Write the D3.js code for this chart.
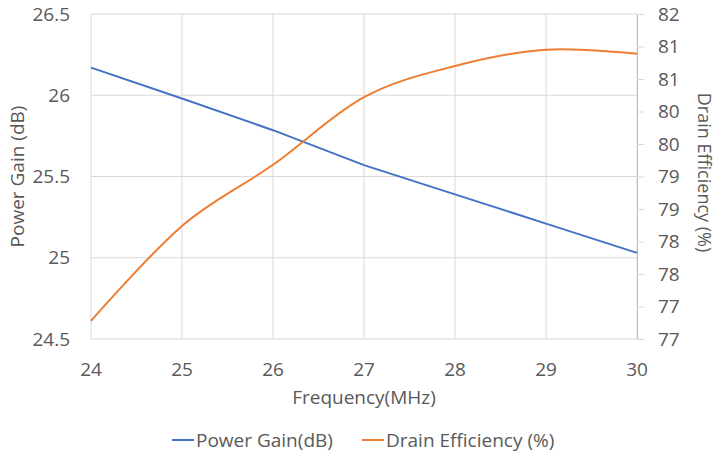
<!DOCTYPE html>
<html>
  <body style="margin:0">
    <style>
      svg { font-family: "Open Sans", sans-serif; }
      text { fill: #595959; }
    </style>
    <script src="https://d3js.org/d3.v7.min.js"></script>
    <script type="text/javascript">
      const width = 717;
      const height = 456;

      const frequency = [24, 25, 26, 27, 28, 29, 30];
      const powerGain = [26.17, 25.98, 25.785, 25.57, 25.39, 25.21, 25.03];
      const drainEfficiency = [77.28, 78.74, 79.68, 80.72, 81.2, 81.45, 81.39];

      const leftTicks = [24.5, 25, 25.5, 26, 26.5];
      const rightTicks = [77, 77.5, 78, 78.5, 79, 79.5, 80, 80.5, 81, 81.5, 82];
      const rightTickLabels = ['77', '77', '78', '78', '79', '79', '80', '80', '81', '81', '82'];

      const margin = { top: 14, right: 80, bottom: 117, left: 91 };
      const fontSize = '19px';

      const svg = d3.select('body')
        .append('svg')
        .attr('width', width)
        .attr('height', height);

      const x = d3.scaleLinear()
        .domain([24, 30])
        .range([margin.left, width - margin.right]);

      const yLeft = d3.scaleLinear()
        .domain([24.5, 26.5])
        .range([height - margin.bottom, margin.top]);

      const yRight = d3.scaleLinear()
        .domain([77, 82])
        .range([height - margin.bottom, margin.top]);

      // grid
      svg.append('g')
        .selectAll('line')
        .data(leftTicks)
        .enter()
        .append('line')
        .attr('x1', x(24))
        .attr('x2', x(30))
        .attr('y1', (d) => yLeft(d))
        .attr('y2', (d) => yLeft(d))
        .attr('stroke', '#d9d9d9');

      svg.append('g')
        .selectAll('line')
        .data(frequency)
        .enter()
        .append('line')
        .attr('x1', (d) => x(d))
        .attr('x2', (d) => x(d))
        .attr('y1', yLeft(24.5))
        .attr('y2', yLeft(26.5))
        .attr('stroke', '#d9d9d9');

      // left axis labels
      svg.append('g')
        .selectAll('text')
        .data(leftTicks)
        .enter()
        .append('text')
        .attr('x', margin.left - 21)
        .attr('y', (d) => yLeft(d))
        .attr('dy', '0.35em')
        .attr('text-anchor', 'end')
        .style('font-size', fontSize)
        .text((d) => d);

      // right axis
      const rightAxis = svg.append('g')
        .attr('transform', `translate(${x(30)},0)`)
        .call(d3.axisRight(yRight).tickValues(rightTicks).tickSize(7).tickPadding(14)
          .tickFormat((d, i) => rightTickLabels[i]));
      rightAxis.select('.domain').attr('stroke', '#bfbfbf');
      rightAxis.selectAll('.tick line').attr('stroke', '#d9d9d9');
      rightAxis.selectAll('.tick text')
        .style('font-size', fontSize)
        .style('font-family', '"Open Sans", sans-serif')
        .attr('fill', '#595959');

      // bottom labels
      svg.append('g')
        .selectAll('text')
        .data(frequency)
        .enter()
        .append('text')
        .attr('x', (d) => x(d))
        .attr('y', yLeft(24.5) + 30)
        .attr('text-anchor', 'middle')
        .attr('dy', '0.35em')
        .style('font-size', fontSize)
        .text((d) => d);

      // axis titles
      svg.append('text')
        .attr('x', (x(24) + x(30)) / 2)
        .attr('y', 397)
        .attr('dy', '0.35em')
        .attr('text-anchor', 'middle')
        .style('font-size', fontSize)
        .text('Frequency(MHz)');

      svg.append('text')
        .attr('transform', `translate(17,${(yLeft(24.5) + yLeft(26.5)) / 2}) rotate(-90)`)
        .attr('dy', '0.35em')
        .attr('text-anchor', 'middle')
        .style('font-size', fontSize)
        .text('Power Gain (dB)');

      svg.append('text')
        .attr('transform', `translate(704,${(yLeft(24.5) + yLeft(26.5)) / 2 - 4}) rotate(90)`)
        .attr('dy', '0.35em')
        .attr('text-anchor', 'middle')
        .style('font-size', '18px')
        .text('Drain Efficiency (%)');

      // lines
      const gainLine = d3.line()
        .x((d, i) => x(frequency[i]))
        .y((d) => yLeft(d));

      const effLine = d3.line()
        .x((d, i) => x(frequency[i]))
        .y((d) => yRight(d))
        .curve(d3.curveCardinal.tension(0));

      svg.append('path')
        .datum(powerGain)
        .attr('d', gainLine)
        .attr('fill', 'none')
        .attr('stroke', '#4472c4')
        .attr('stroke-width', 2);

      svg.append('path')
        .datum(drainEfficiency)
        .attr('d', effLine)
        .attr('fill', 'none')
        .attr('stroke', '#ed7d31')
        .attr('stroke-width', 2);

      // legend
      const legend = [
        { name: 'Power Gain(dB)', color: '#4472c4', x: 172 },
        { name: 'Drain Efficiency (%)', color: '#ed7d31', x: 362 },
      ];
      const lg = svg.append('g')
        .selectAll('g')
        .data(legend)
        .enter()
        .append('g')
        .attr('transform', (d) => `translate(${d.x},440)`);
      lg.append('line')
        .attr('x1', 0)
        .attr('x2', 22)
        .attr('stroke', (d) => d.color)
        .attr('stroke-width', 2);
      lg.append('text')
        .attr('x', 24)
        .attr('dy', '0.35em')
        .style('font-size', fontSize)
        .text((d) => d.name);
    </script>
  </body>
</html>
